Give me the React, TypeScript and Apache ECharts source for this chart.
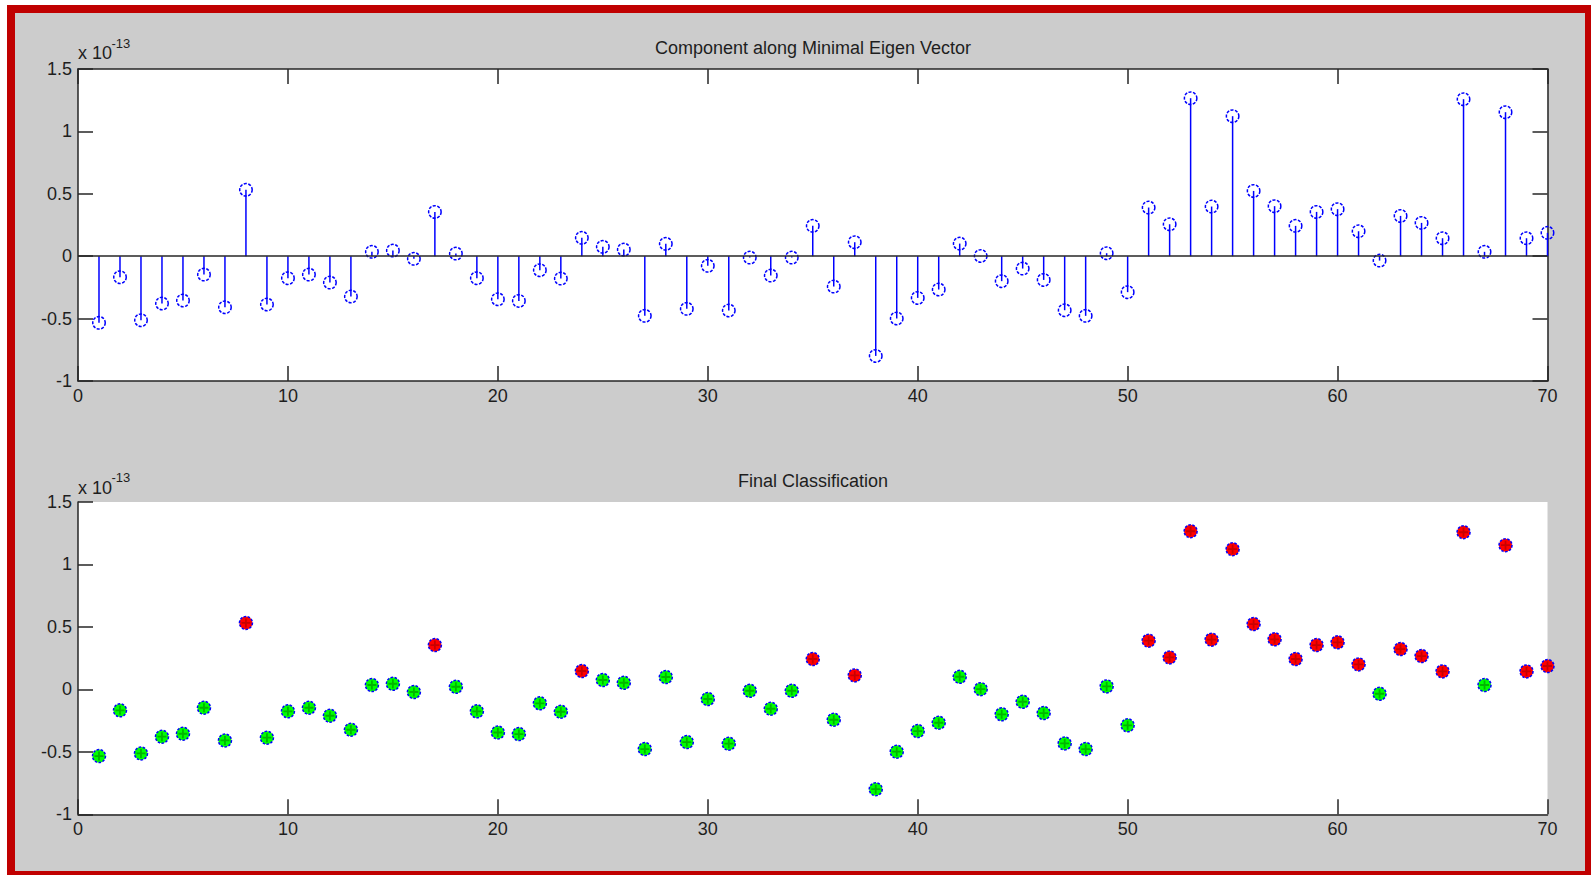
import React, { useEffect, useRef } from "react";
import * as echarts from "echarts";

// ---------------- data ----------------
const sampleIndex: number[] = Array.from({ length: 70 }, (_, i) => i + 1);

// component values in units of 1e-13
const componentE13: number[] = [
  -0.534, -0.168, -0.513, -0.379, -0.355, -0.147, -0.409, 0.532, -0.387, -0.176,
  -0.147, -0.211, -0.323, 0.035, 0.045, -0.021, 0.355, 0.021, -0.176, -0.345,
  -0.358, -0.112, -0.179, 0.147, 0.075, 0.053, -0.478, 0.099, -0.422, -0.077,
  -0.435, -0.011, -0.155, -0.011, 0.243, -0.243, 0.112, -0.799, -0.499, -0.334,
  -0.267, 0.101, 0.002, -0.2, -0.099, -0.19, -0.433, -0.478, 0.024, -0.288,
  0.39, 0.256, 1.266, 0.398, 1.122, 0.523, 0.401, 0.243, 0.355, 0.377,
  0.2, -0.035, 0.323, 0.267, 0.144, 1.258, 0.035, 1.154, 0.144, 0.187,
];

// sample indices assigned to the "red" class (all others are "green")
const redClassIndices: number[] = [
  8, 17, 24, 35, 37, 51, 52, 53, 54, 55, 56, 57, 58, 59, 60, 61, 63, 64, 65, 66, 68, 69, 70,
];

const xTickMin = 0;
const xTickMax = 70;
const xTickStep = 10;
const yTickMin = -1;
const yTickMax = 1.5;
const yTickStep = 0.5;

const topTitle = "Component along Minimal Eigen Vector";
const bottomTitle = "Final Classification";
const scaleBase = "x 10";
const scaleExp = "-13";

// ---------------- styling ----------------
const FONT = "'Liberation Sans', Arial, Helvetica, sans-serif";
const AX = "#262626";
const TXT = "#1e1e1e";
const BLUE = "#0000ff";

function makeXAxis(gridIndex: number, position: string, showLabel: boolean) {
  return {
    type: "value",
    gridIndex,
    position,
    min: xTickMin,
    max: xTickMax,
    interval: xTickStep,
    axisLine: { show: true, onZero: false, lineStyle: { color: AX, width: 1.5 } },
    axisTick: { show: true, inside: true, length: 15, lineStyle: { color: AX, width: 1.5 } },
    axisLabel: { show: showLabel, color: TXT, fontSize: 18, fontFamily: FONT, margin: 6 },
    splitLine: { show: false },
  };
}

function makeYAxis(gridIndex: number, position: string, showLabel: boolean) {
  return {
    type: "value",
    gridIndex,
    position,
    min: yTickMin,
    max: yTickMax,
    interval: yTickStep,
    axisLine: { show: true, onZero: false, lineStyle: { color: AX, width: 1.5 } },
    axisTick: { show: true, inside: true, length: 15, lineStyle: { color: AX, width: 1.5 } },
    axisLabel: { show: showLabel, color: TXT, fontSize: 18, fontFamily: FONT, margin: 6 },
    splitLine: { show: false },
  };
}

function textEl(text: string, x: number, y: number, size: number, align: string) {
  return {
    type: "text",
    x,
    y,
    silent: true,
    style: {
      text,
      fill: TXT,
      fontSize: size,
      fontFamily: FONT,
      align,
      verticalAlign: "middle",
    },
  };
}

export default function App() {
  const ref = useRef<HTMLDivElement>(null);

  useEffect(() => {
    if (!ref.current) return;
    const chart = echarts.init(ref.current, null, { renderer: "svg" });

    const pts = sampleIndex.map((x, i) => [x, componentE13[i]]);
    const redSet = new Set(redClassIndices);
    const redPts = pts.filter((p) => redSet.has(p[0]));
    const greenPts = pts.filter((p) => !redSet.has(p[0]));

    const option: any = {
      animation: false,
      backgroundColor: "#cccccc",
      grid: [
        {
          left: 78,
          top: 69,
          width: 1469.5,
          height: 312,
          show: true,
          backgroundColor: "#ffffff",
          borderWidth: 0,
          containLabel: false,
          outerBoundsMode: "none",
        },
        {
          left: 78,
          top: 502,
          width: 1469.5,
          height: 312.3,
          show: true,
          backgroundColor: "#ffffff",
          borderWidth: 0,
          containLabel: false,
          outerBoundsMode: "none",
        },
      ],
      xAxis: [
        makeXAxis(0, "bottom", true),
        makeXAxis(0, "top", false),
        makeXAxis(1, "bottom", true),
      ],
      yAxis: [
        makeYAxis(0, "left", true),
        makeYAxis(0, "right", false),
        makeYAxis(1, "left", true),
      ],
      graphic: [
        { type: "rect", silent: true, shape: { x: 0, y: 0, width: 1591, height: 5 }, style: { fill: "#ffffff" } },
        { type: "rect", silent: true, shape: { x: 0, y: 0, width: 7, height: 875 }, style: { fill: "#ffffff" } },
        {
          type: "rect",
          silent: true,
          shape: { x: 11, y: 9, width: 1578, height: 866 },
          style: { fill: "none", stroke: "#c00000", lineWidth: 8 },
        },
        textEl(topTitle, 813, 48, 18, "center"),
        textEl(bottomTitle, 813, 481, 18, "center"),
        textEl(scaleBase, 78, 53, 18, "left"),
        textEl(scaleExp, 111.5, 43.5, 13, "left"),
        textEl(scaleBase, 78, 487.5, 18, "left"),
        textEl(scaleExp, 111.5, 477, 13, "left"),
      ],
      series: [
        {
          type: "custom",
          xAxisIndex: 0,
          yAxisIndex: 0,
          silent: true,
          z: 2,
          data: pts,
          renderItem: (params: any, api: any) => {
            const p0 = api.coord([api.value(0), 0]);
            const p1 = api.coord([api.value(0), api.value(1)]);
            return {
              type: "line",
              shape: { x1: p0[0], y1: p0[1], x2: p1[0], y2: p1[1] },
              style: { stroke: BLUE, lineWidth: 1.5 },
            };
          },
        },
        {
          type: "scatter",
          xAxisIndex: 0,
          yAxisIndex: 0,
          silent: true,
          z: 3,
          data: pts,
          symbol: "circle",
          symbolSize: 12.5,
          itemStyle: {
            color: "rgba(255,255,255,0)",
            borderColor: BLUE,
            borderWidth: 1.5,
            borderType: [3, 1.5],
            opacity: 1,
          },
          markLine: {
            silent: true,
            symbol: ["none", "none"],
            label: { show: false },
            lineStyle: { color: AX, width: 1.5, type: "solid" },
            data: [{ yAxis: 0 }],
          },
        },
        {
          type: "scatter",
          xAxisIndex: 2,
          yAxisIndex: 2,
          silent: true,
          z: 3,
          data: greenPts,
          symbol: "circle",
          symbolSize: 13,
          itemStyle: {
            color: "#00ff00",
            borderColor: BLUE,
            borderWidth: 1.5,
            borderType: [2.5, 1.5],
            opacity: 1,
          },
        },
        {
          type: "scatter",
          xAxisIndex: 2,
          yAxisIndex: 2,
          silent: true,
          z: 3,
          data: redPts,
          symbol: "circle",
          symbolSize: 13,
          itemStyle: {
            color: "#ff0000",
            borderColor: BLUE,
            borderWidth: 1.5,
            borderType: [2.5, 1.5],
            opacity: 1,
          },
        },
        {
          type: "scatter",
          xAxisIndex: 2,
          yAxisIndex: 2,
          silent: true,
          z: 4,
          data: greenPts,
          symbol: "path://M4,0L6,0L6,4L10,4L10,6L6,6L6,10L4,10L4,6L0,6L0,4L4,4Z",
          symbolSize: 9,
          itemStyle: { color: "#00b400", borderWidth: 0, opacity: 1 },
        },
        {
          type: "scatter",
          xAxisIndex: 2,
          yAxisIndex: 2,
          silent: true,
          z: 4,
          data: redPts,
          symbol: "path://M4,0L6,0L6,4L10,4L10,6L6,6L6,10L4,10L4,6L0,6L0,4L4,4Z",
          symbolSize: 9,
          itemStyle: { color: "#c80000", borderWidth: 0, opacity: 1 },
        },
      ],
    };

    chart.setOption(option);
    return () => chart.dispose();
  }, []);

  return (
    <div
      ref={ref}
      style={{ position: "absolute", left: 0, top: 0, width: "1591px", height: "875px" }}
    />
  );
}
